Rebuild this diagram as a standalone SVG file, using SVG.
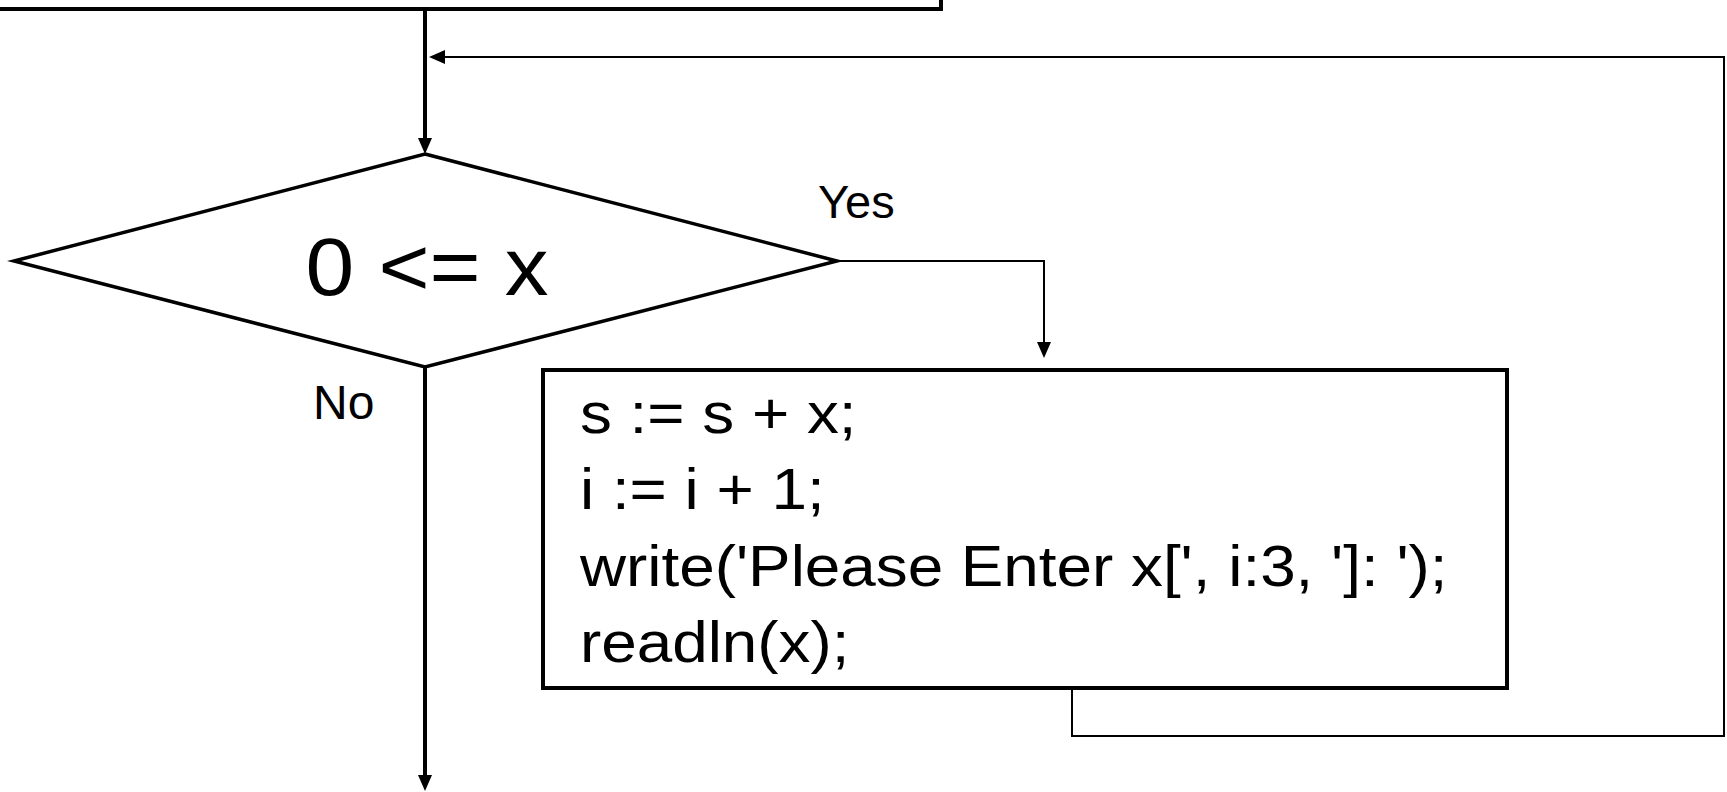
<svg xmlns="http://www.w3.org/2000/svg" width="1727" height="792" viewBox="0 0 1727 792">
<style>
.shape{fill:#fff;stroke:#000;}
.t{font-family:"Liberation Sans",Arial,sans-serif;fill:#000;}
.thick{fill:none;stroke:#000;stroke-width:4;}
.thin{fill:none;stroke:#000;stroke-width:2;}
</style>
<defs>
<marker id="ah" markerUnits="userSpaceOnUse" markerWidth="16" markerHeight="14" refX="6" refY="7" orient="auto" overflow="visible">
<path d="M0,0 L16,7 L0,14 z" fill="#000"/>
</marker>
</defs>
<rect width="1727" height="792" fill="#fff"/>
<g id="top-box">
<rect class="shape" x="-10" y="-100" width="951" height="109" stroke-width="4"/>
</g>
<g id="connectors">
<path class="thick" d="M425 9 V144" marker-end="url(#ah)"/>
<path class="thick" d="M425 367 V781" marker-end="url(#ah)"/>
<path class="thin" d="M837 261 H1044 V348" marker-end="url(#ah)"/>
<path class="thin" d="M1072 689 V736 H1724 V57 H439" marker-end="url(#ah)"/>
</g>
<g id="decision">
<polygon class="shape" points="425,154 837,261 425,367 14,261" stroke-width="3.5"/>
<text class="t" x="0" y="0" font-size="81" text-anchor="middle" transform="translate(427,295) scale(1.08,1)">0 &lt;= x</text>
</g>
<g id="labels">
<text class="t" x="818" y="218" font-size="47">Yes</text>
<text class="t" x="313" y="419" font-size="48">No</text>
</g>
<g id="process">
<rect class="shape" x="543" y="370" width="964" height="318" stroke-width="4"/>
<g transform="translate(580,0) scale(1.1,1)">
<text class="t" x="0" y="433" font-size="58">s := s + x;</text>
<text class="t" x="0" y="509" font-size="58">i := i + 1;</text>
<text class="t" x="0" y="586" font-size="58">write('Please Enter x[', i:3, ']: ');</text>
<text class="t" x="0" y="662" font-size="58">readln(x);</text>
</g>
</g>
</svg>
